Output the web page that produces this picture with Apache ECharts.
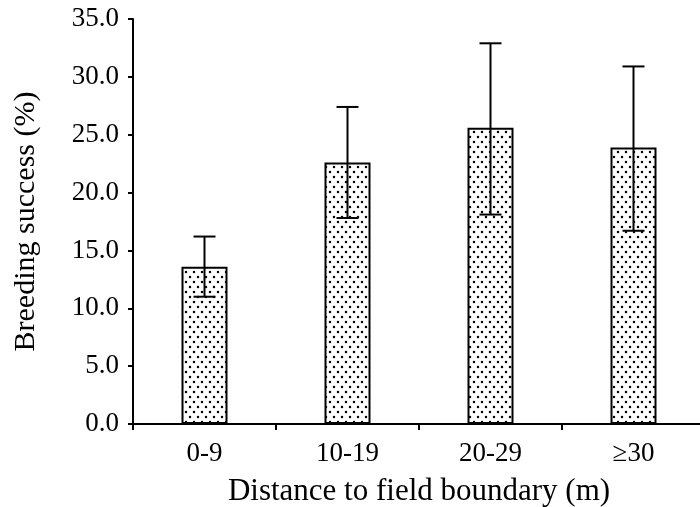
<!DOCTYPE html>
<html>
<head>
<meta charset="utf-8">
<script src="https://cdn.jsdelivr.net/npm/echarts@6/dist/echarts.min.js"></script>
<style>
  html, body { margin: 0; padding: 0; background: #fff; }
  #chart { width: 700px; height: 507px; }
</style>
</head>
<body>
<div id="chart"></div>
<script>
// Breeding success by distance to the field boundary (mean with error range)
const categories = ['0-9', '10-19', '20-29', '\u226530'];
const meanSuccess = [13.6, 22.6, 25.6, 23.9];
const errLower = [11.0, 17.8, 18.1, 16.7];
const errUpper = [16.2, 27.4, 32.9, 30.9];
const yTicks = { min: 0, max: 35, interval: 5 };

// Stippled fill used inside the bars
function dotPattern() {
  const c = document.createElement('canvas');
  c.width = 8; c.height = 10;
  const g = c.getContext('2d');
  g.fillStyle = '#fff';
  g.fillRect(0, 0, 8, 10);
  g.fillStyle = '#000';
  g.beginPath(); g.arc(2, 2, 1.25, 0, Math.PI * 2); g.fill();
  g.beginPath(); g.arc(6, 7, 1.25, 0, Math.PI * 2); g.fill();
  return c;
}

const font = 'Liberation Serif';
const chart = echarts.init(document.getElementById('chart'), null, { renderer: 'canvas' });

chart.setOption({
  animation: false,
  backgroundColor: '#fff',
  grid: { left: 133, top: 19, bottom: 83, width: 572, outerBoundsMode: 'none', containLabel: false },
  xAxis: {
    type: 'category',
    data: categories,
    name: 'Distance to field boundary (m)',
    nameLocation: 'middle',
    nameGap: 52,
    nameTextStyle: { fontFamily: font, fontSize: 31, color: '#000', verticalAlign: 'top' },
    axisLine: { lineStyle: { color: '#000', width: 2 } },
    axisTick: { show: true, length: 6, lineStyle: { color: '#000', width: 2 } },
    axisLabel: { fontFamily: font, fontSize: 27, color: '#000', margin: 16 }
  },
  yAxis: {
    type: 'value',
    min: yTicks.min, max: yTicks.max, interval: yTicks.interval,
    name: 'Breeding success (%)',
    nameLocation: 'middle',
    nameGap: 92,
    nameTextStyle: { fontFamily: font, fontSize: 30, color: '#000' },
    splitLine: { show: false },
    axisLine: { show: true, lineStyle: { color: '#000', width: 2 } },
    axisTick: { show: true, length: 5, lineStyle: { color: '#000', width: 2 } },
    axisLabel: {
      fontFamily: font, fontSize: 27, color: '#000', margin: 14,
      formatter: v => v.toFixed(1)
    }
  },
  series: [
    {
      type: 'bar',
      data: meanSuccess,
      barWidth: 46,
      itemStyle: {
        color: { image: dotPattern(), repeat: 'repeat' },
        borderColor: '#000',
        borderWidth: 2
      },
      z: 2
    },
    {
      type: 'custom',
      data: categories.map((c, i) => [i, errLower[i], errUpper[i]]),
      z: 3,
      renderItem: function (params, api) {
        const lo = api.coord([api.value(0), api.value(1)]);
        const hi = api.coord([api.value(0), api.value(2)]);
        const half = 11;
        const style = { stroke: '#000', lineWidth: 2 };
        return {
          type: 'group',
          children: [
            { type: 'line', shape: { x1: hi[0], y1: hi[1], x2: lo[0], y2: lo[1] }, style },
            { type: 'line', shape: { x1: hi[0] - half, y1: hi[1], x2: hi[0] + half, y2: hi[1] }, style },
            { type: 'line', shape: { x1: lo[0] - half, y1: lo[1], x2: lo[0] + half, y2: lo[1] }, style }
          ]
        };
      }
    }
  ]
});
</script>
</body>
</html>
